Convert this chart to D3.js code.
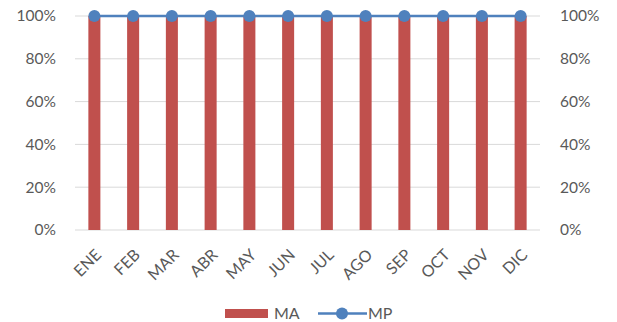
<!DOCTYPE html>
<html><head><meta charset="utf-8">
<script src="https://cdn.jsdelivr.net/npm/d3@7"></script>
<style>body{margin:0;background:#fff;} text{font-family:Lato,"Open Sans",sans-serif;fill:#595959;}</style>
</head><body>
<svg id="c" width="617" height="322"></svg>
<script>
const months = ["ENE","FEB","MAR","ABR","MAY","JUN","JUL","AGO","SEP","OCT","NOV","DIC"];
const maValues = [1,1,1,1,1,1,1,1,1,1,1,1];
const mpValues = [1,1,1,1,1,1,1,1,1,1,1,1];
const yTicks = [0,0.2,0.4,0.6,0.8,1];

(function(){
const svg = d3.select("#c");
const pLeft = 75, pRight = 540, pTop = 16, pBottom = 230;
const x = d3.scaleBand().domain(months).range([pLeft, pRight]).paddingInner(0.69).paddingOuter(0.345);
const y = d3.scaleLinear().domain([0,1]).range([pBottom, pTop]);
const fmt = d3.format(".0%");

svg.append("g").selectAll("line").data(yTicks).join("line")
  .attr("x1", pLeft).attr("x2", pRight)
  .attr("y1", d => y(d)).attr("y2", d => y(d))
  .attr("stroke", "#d9d9d9").attr("stroke-width", 1);

const la = svg.append("g").attr("transform", `translate(${pLeft},0)`)
  .call(d3.axisLeft(y).tickValues(yTicks).tickFormat(fmt).tickSize(0).tickPadding(19));
la.select(".domain").remove();
la.selectAll("text").style("font-size", "15.5px").attr("fill", "#595959");

const ra = svg.append("g").attr("transform", `translate(${pRight},0)`)
  .call(d3.axisRight(y).tickValues(yTicks).tickFormat(fmt).tickSize(0).tickPadding(20));
ra.select(".domain").remove();
ra.selectAll("text").style("font-size", "15.5px").attr("fill", "#595959");

svg.append("g").selectAll("rect").data(months).join("rect")
  .attr("x", d => x(d)).attr("width", x.bandwidth())
  .attr("y", (d,i) => y(maValues[i])).attr("height", (d,i) => y(0) - y(maValues[i]))
  .attr("fill", "#C0504D");

svg.append("g").selectAll("text").data(months).join("text")
  .attr("transform", d => `translate(${x(d) + x.bandwidth()/2},${pBottom + 18}) rotate(-45)`)
  .attr("text-anchor", "end").attr("dy", "0.7em")
  .style("font-size", "16px").text(d => d);

const cx = d => x(d) + x.bandwidth()/2;
svg.append("path").datum(months)
  .attr("d", d3.line().x(cx).y((d,i) => y(mpValues[i])))
  .attr("fill", "none").attr("stroke", "#4F81BD").attr("stroke-width", 2.5);
svg.append("g").selectAll("circle").data(months).join("circle")
  .attr("cx", cx).attr("cy", (d,i) => y(mpValues[i])).attr("r", 6)
  .attr("fill", "#4F81BD");

const lg = svg.append("g");
lg.append("rect").attr("x", 225).attr("y", 309).attr("width", 43).attr("height", 9).attr("fill", "#C0504D");
lg.append("text").attr("x", 274).attr("y", 319).style("font-size", "16px").text("MA");
lg.append("line").attr("x1", 318).attr("x2", 367).attr("y1", 313.5).attr("y2", 313.5).attr("stroke", "#4F81BD").attr("stroke-width", 2.5);
lg.append("circle").attr("cx", 342).attr("cy", 313.5).attr("r", 6).attr("fill", "#4F81BD");
lg.append("text").attr("x", 368).attr("y", 319).style("font-size", "16px").text("MP");
})();
</script>
</body></html>
